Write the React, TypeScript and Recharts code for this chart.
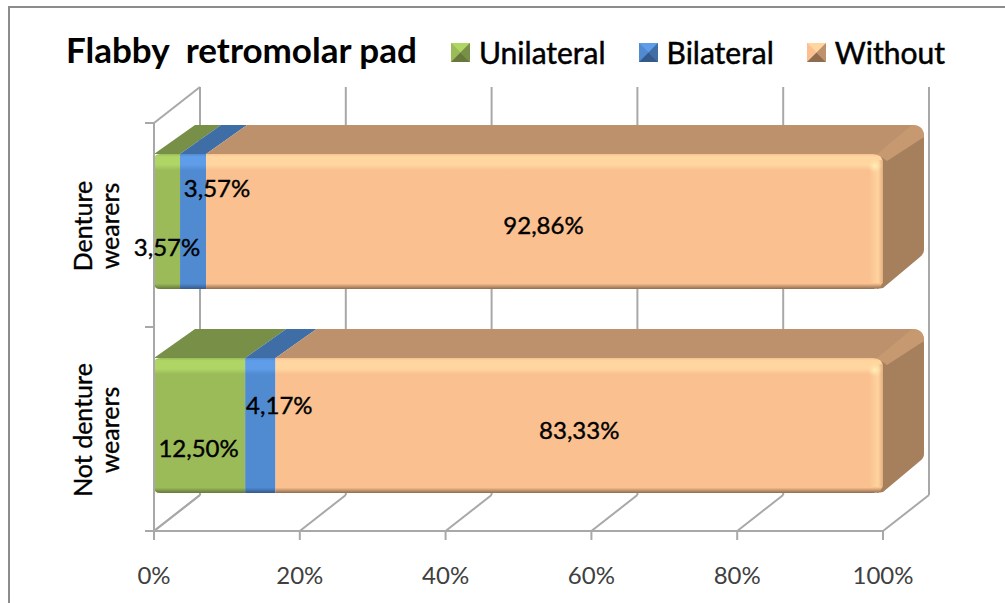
import { BarChart, Bar, XAxis, YAxis, CartesianGrid, Legend, LabelList, usePlotArea } from 'recharts'

const categories = ['Denture wearers', 'Not denture wearers']
const unilateral = [3.57, 12.5]
const bilateral = [3.57, 4.17]
const without = [92.86, 83.33]
const xTicks = [0, 20, 40, 60, 80, 100]

const data = categories.map((name, i) => ({
  name,
  unilateral: unilateral[i],
  bilateral: bilateral[i],
  without: without[i],
}))

const FONT = 'Lato, "Open Sans", sans-serif'
const LINE = '#a8a8a8'

// fake 3D: how far the back wall and the bars recede
const WALL_DX = 46
const WALL_DY = 36
const BAR_DX = 41
const BAR_DY = 29
const BAR_LIFT = 4

const tones = {
  unilateral: { id: 'uni', front: '#9bbb59', light: '#afd565', dark: '#66783c', top: '#778f47', side: '#6f8540', edge: '#8aa653' },
  bilateral: { id: 'bi', front: '#508bd2', light: '#5f9de8', dark: '#34598a', top: '#3f6ea6', side: '#38629a', edge: '#4a80c0' },
  without: { id: 'wo', front: '#fac090', light: '#ffd6a0', dark: '#8f6c4e', top: '#bc916b', side: '#a6805c', edge: '#c69971' },
}
type Tone = typeof tones.without

// data labels in the original sit off centre, per series and row
const labelNudge: Record<string, { dx: number; dy: number }[]> = {
  unilateral: [{ dx: 0, dy: 25 }, { dx: -1, dy: 22 }],
  bilateral: [{ dx: 24, dy: -34 }, { dx: 19, dy: -21 }],
  without: [{ dx: -1, dy: 3 }, { dx: 0, dy: 4 }],
}

function Box3D(props: any) {
  const { x, y, width, height, tone, first, last } = props as {
    x: number; y: number; width: number; height: number; tone: Tone; first?: boolean; last?: boolean
  }
  const top = y - BAR_LIFT
  const bottom = top + height
  const right = x + width
  const r = 6
  const rl = first ? r : 0
  const rr = last ? 10 : 0
  const frontPath = `M${x + rl},${top} L${right - rr},${top} Q${right},${top} ${right},${top + rr} L${right},${bottom - rr} Q${right},${bottom} ${right - rr},${bottom} L${x + rl},${bottom} Q${x},${bottom} ${x},${bottom - rl} L${x},${top + rl} Q${x},${top} ${x + rl},${top} Z`
  const backX = right + BAR_DX
  const backY = top - BAR_DY
  return (
    <g>
      {last ? (
        <path
          d={`M${right - 4},${top} L${backX - 10},${backY + 2} Q${backX},${backY + 2} ${backX},${backY + 14} L${backX},${bottom - BAR_DY - 10} Q${backX},${bottom - BAR_DY - 6} ${backX - 4},${bottom - BAR_DY - 3} L${right},${bottom - 1} L${right - 6},${bottom} Z`}
          fill={tone.side}
        />
      ) : null}
      <path
        d={
          last
            ? `M${x},${top} L${x + BAR_DX},${backY} L${backX - 12},${backY} Q${backX},${backY} ${backX},${backY + 12} L${right},${top + 4} Z`
            : `M${x},${top} L${x + BAR_DX},${backY} L${backX},${backY} L${right},${top} Z`
        }
        fill={tone.top}
      />
      {last ? (
        <path
          d={`M${right - 6},${top} L${backX - 12},${backY} Q${backX},${backY} ${backX},${backY + 12} L${right + 4},${top + 7} Z`}
          fill={tone.edge}
        />
      ) : null}
      <path d={frontPath} fill={`url(#front-${tone.id})`} />
      {last ? (
        <>
          <rect x={right - 14} y={top + 6} width={14} height={height - 12} fill="url(#right-bevel)" />
          <circle cx={right - 8} cy={top + 12} r={7} fill="url(#corner-glint)" />
        </>
      ) : null}
    </g>
  )
}

function FrontGradient({ tone }: { tone: Tone }) {
  return (
    <linearGradient id={`front-${tone.id}`} x1="0" y1="0" x2="0" y2="1">
      <stop offset="0%" stopColor={tone.front} />
      <stop offset="2%" stopColor={tone.light} />
      <stop offset="8%" stopColor={tone.light} />
      <stop offset="12%" stopColor={tone.front} />
      <stop offset="96%" stopColor={tone.front} />
      <stop offset="100%" stopColor={tone.dark} />
    </linearGradient>
  )
}

// left wall outline and the category axis ticks, which fall between the bands
function WallFrame() {
  const plot = usePlotArea()
  if (!plot) return null
  const { x, y, height } = plot
  const bottom = y + height
  const step = height / categories.length
  const marks = [0, 1, 2].map((i) => y + step * i)
  return (
    <g stroke={LINE} strokeWidth={2} fill="none">
      <line x1={x} y1={y} x2={x + WALL_DX} y2={y - WALL_DY} />
      <line x1={x} y1={bottom} x2={x + WALL_DX} y2={bottom - WALL_DY} />
      {marks.map((my) => (
        <line key={my} x1={x - 9} y1={my} x2={x} y2={my} />
      ))}
    </g>
  )
}

function wallLine(p: any) {
  const { x1, y1, y2, key } = p
  return (
    <g key={key} stroke={LINE} strokeWidth={2} fill="none">
      <line x1={x1 + WALL_DX} y1={y1 - WALL_DY} x2={x1 + WALL_DX} y2={y2 - WALL_DY} />
      <line x1={x1} y1={y2} x2={x1 + WALL_DX} y2={y2 - WALL_DY} />
    </g>
  )
}

function CategoryTick({ x, y, payload }: any) {
  const words = String(payload.value).split(' ')
  const tail = words.pop()
  const lines = [words.join(' '), tail]
  return (
    <g transform={`translate(${x - 54},${y + 1}) rotate(-90)`}>
      {lines.map((line, i) => (
        <text key={i} x={0} y={i * 27} textAnchor="middle" fontFamily={FONT} fontSize={25} stroke="#000" strokeWidth={0.35} fill="#000">
          {line}
        </text>
      ))}
    </g>
  )
}

function LegendMarker({ tone }: { tone: Tone }) {
  const s = 19
  const c = s / 2
  return (
    <svg width={s} height={s} style={{ display: 'block' }}>
      <rect width={s} height={s} fill={tone.front} />
      <polygon points={`0,0 ${s},0 ${c},${c}`} fill={tone.light} />
      <polygon points={`0,0 0,${s} ${c},${c}`} fill={tone.front} />
      <polygon points={`${s},0 ${s},${s} ${c},${c}`} fill={tone.top} />
      <polygon points={`0,${s} ${s},${s} ${c},${c}`} fill={tone.dark} />
    </svg>
  )
}

function LegendRow({ payload }: any) {
  return (
    <div style={{ display: 'flex', alignItems: 'center', gap: 33 }}>
      {(payload ?? []).map((item: any) => (
        <div key={item.value} style={{ display: 'flex', alignItems: 'center', gap: 9 }}>
          <LegendMarker tone={tones[item.dataKey as keyof typeof tones]} />
          <span style={{ fontFamily: FONT, fontSize: 30, color: '#000', lineHeight: '34px', WebkitTextStroke: '0.5px #000' }}>
            {item.value}
          </span>
        </div>
      ))}
    </div>
  )
}

function seriesLabel(series: keyof typeof labelNudge) {
  return function SeriesLabel({ x, y, width, height, value, index }: any) {
    const nudge = labelNudge[series][index]
    return (
      <text
        x={x + width / 2 + nudge.dx}
        y={y - BAR_LIFT + height / 2 + nudge.dy}
        textAnchor="middle"
        dominantBaseline="central"
        fontFamily={FONT}
        fontSize={24}
        stroke="#000"
        strokeWidth={0.4}
        fill="#000"
      >
        {`${Number(value).toFixed(2).replace('.', ',')}%`}
      </text>
    )
  }
}

export default function App() {
  return (
    <div style={{ position: 'absolute', left: 0, top: 0, width: 1005, height: 603, overflow: 'hidden', background: '#fff' }}>
      <div style={{ position: 'absolute', left: 8, top: 6, right: -4, bottom: -4, borderLeft: '2px solid #8c8c8c', borderTop: '2px solid #8c8c8c' }} />
      <BarChart
        width={1005}
        height={603}
        layout="vertical"
        data={data}
        barSize={135}
        margin={{ top: 89, right: 122, bottom: 42, left: 64 }}
        style={{ position: 'absolute', left: 0, top: 0 }}
      >
        <defs>
          <FrontGradient tone={tones.unilateral} />
          <FrontGradient tone={tones.bilateral} />
          <FrontGradient tone={tones.without} />
          <linearGradient id="right-bevel" x1="0" y1="0" x2="1" y2="0">
            <stop offset="0%" stopColor="#ffd6a0" stopOpacity={0} />
            <stop offset="65%" stopColor="#ffd6a0" stopOpacity={0.9} />
            <stop offset="100%" stopColor="#e0ab7c" stopOpacity={0.9} />
          </linearGradient>
          <radialGradient id="corner-glint">
            <stop offset="0%" stopColor="#fff0b8" />
            <stop offset="100%" stopColor="#ffe0a8" stopOpacity={0} />
          </radialGradient>
        </defs>
        <text x={66} y={63} fontFamily={FONT} fontSize={35} fontWeight={700} fill="#000" style={{ whiteSpace: 'pre' }}>
          {'Flabby  retromolar pad'}
        </text>
        <CartesianGrid horizontal={false} vertical={wallLine} />
        <XAxis
          type="number"
          domain={[0, 100]}
          ticks={xTicks}
          interval={0}
          tickFormatter={(v) => `${v}%`}
          axisLine={{ stroke: LINE, strokeWidth: 2 }}
          tickLine={{ stroke: LINE, strokeWidth: 2 }}
          tickSize={9}
          tickMargin={27}
          tick={{ fontFamily: FONT, fontSize: 24, fill: '#404040' }}
        />
        <YAxis
          type="category"
          dataKey="name"
          width={90}
          interval={0}
          axisLine={{ stroke: LINE, strokeWidth: 2 }}
          tickLine={false}
          tick={CategoryTick}
        />
        <WallFrame />
        <Legend
          verticalAlign="top"
          align="left"
          itemSorter={null}
          content={LegendRow}
          wrapperStyle={{ position: 'absolute', left: 451, top: 35, width: 540 }}
        />
        <Bar
          dataKey="unilateral"
          name="Unilateral"
          stackId="a"
          fill={tones.unilateral.front}
          isAnimationActive={false}
          shape={(p: any) => <Box3D {...p} tone={tones.unilateral} first />}
        >
          <LabelList dataKey="unilateral" content={seriesLabel('unilateral')} />
        </Bar>
        <Bar
          dataKey="bilateral"
          name="Bilateral"
          stackId="a"
          fill={tones.bilateral.front}
          isAnimationActive={false}
          shape={(p: any) => <Box3D {...p} tone={tones.bilateral} />}
        >
          <LabelList dataKey="bilateral" content={seriesLabel('bilateral')} />
        </Bar>
        <Bar
          dataKey="without"
          name="Without"
          stackId="a"
          fill={tones.without.front}
          isAnimationActive={false}
          shape={(p: any) => <Box3D {...p} tone={tones.without} last />}
        >
          <LabelList dataKey="without" content={seriesLabel('without')} />
        </Bar>
      </BarChart>
    </div>
  )
}
